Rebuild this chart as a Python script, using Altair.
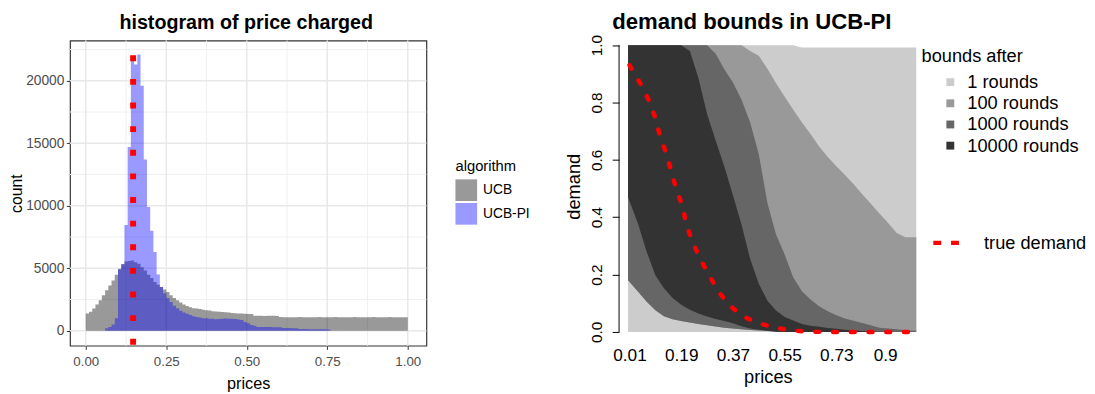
import altair as alt
import pandas as pd

# ---------------- left panel: histogram of price charged ----------------
bin_width = 0.01
ucb_first_bin = 0.0
ucb_counts = [1375, 1510, 1770, 2090, 2430, 2830, 3230, 3620, 4020, 4470,
              4950, 5340, 5530, 5580, 5610, 5480, 5350, 5080, 4810, 4470,
              4210, 3890, 3680, 3490, 3300, 3100, 2830, 2620, 2430, 2250,
              2090, 1985, 1880, 1800, 1770, 1740, 1680, 1640, 1620, 1560,
              1530, 1510, 1490, 1470, 1450, 1420, 1400, 1380, 1370, 1350,
              1340, 1330, 1190, 1185, 1185, 1180, 1185, 1190, 1185, 1180,
              1085, 1080, 1080, 1075, 1080, 1080, 1085, 1080, 1080, 1075,
              1080, 1080, 1085, 1080, 1075, 1080, 1080, 1085, 1080, 1080,
              1075, 1080, 1080, 1085, 1080, 1080, 1075, 1080, 1080, 1085,
              1080, 1080, 1075, 1080, 1085, 1080, 1080, 1075, 1080, 1080]
ucbpi_first_bin = 0.06
ucbpi_counts = [200, 300, 500, 1000, 4900, 5300, 8450, 14700, 21900, 21300,
                22100, 19600, 13700, 9900, 8000, 6300, 4500, 3500, 3000, 2600,
                2300, 2000, 1800, 1600, 1450, 1350, 1250, 1150, 1100, 1050,
                1000, 1000, 950, 950, 920, 930, 960, 970, 960, 950,
                940, 900, 850, 700, 600, 450, 400, 300, 300, 290,
                290, 290, 280, 280, 280, 210, 210, 210, 200, 200,
                130, 130, 130, 120, 120, 120, 110, 110, 110, 100]
optimal_price = [0.147]
algorithms = ["UCB", "UCB-PI"]
hist_x_major = [0.0, 0.25, 0.5, 0.75, 1.0]
hist_x_minor = [0.125, 0.375, 0.625, 0.875]
hist_y_major = [0, 5000, 10000, 15000, 20000]
hist_y_minor = [2500, 7500, 12500, 17500, 22500]

# ---------------- right panel: demand bounds in UCB-PI ----------------
knot_prices = [0.005, 0.04, 0.07, 0.10, 0.13, 0.16, 0.19, 0.22, 0.25, 0.28,
               0.31, 0.34, 0.37, 0.40, 0.43, 0.46, 0.49, 0.52, 0.55, 0.58,
               0.61, 0.64, 0.67, 0.70, 0.73, 0.76, 0.79, 0.82, 0.85, 0.88,
               0.91, 0.94, 0.97, 1.008]
upper_1 = [1.0, 1.0, 1.0, 1.0, 1.0, 1.0, 1.0, 1.0, 1.0, 1.0,
           1.0, 1.0, 1.0, 1.0, 1.0, 1.0, 1.0, 1.0, 1.0, 1.0,
           0.992, 0.992, 0.992, 0.992, 0.992, 0.992, 0.992, 0.992, 0.992, 0.992,
           0.992, 0.992, 0.992, 0.992]
lower_1 = [0.0] * 34
upper_100 = [1.0, 1.0, 1.0, 1.0, 1.0, 1.0, 1.0, 1.0, 1.0, 1.0,
             1.0, 1.0, 1.0, 1.0, 0.98, 0.963, 0.918, 0.867, 0.82, 0.775,
             0.73, 0.69, 0.647, 0.61, 0.578, 0.547, 0.515, 0.48, 0.447, 0.413,
             0.38, 0.345, 0.33, 0.33]
lower_100 = [0.18, 0.14, 0.105, 0.076, 0.055, 0.044, 0.038, 0.033, 0.028, 0.023,
             0.019, 0.015, 0.012, 0.009, 0.007, 0.005, 0.003, 0.002, 0.0, 0.0,
             0.0, 0.0, 0.0, 0.0, 0.0, 0.0, 0.0, 0.0, 0.0, 0.0,
             0.0, 0.0, 0.0, 0.0]
upper_1000 = [1.0, 1.0, 1.0, 1.0, 1.0, 1.0, 1.0, 1.0, 1.0, 1.0,
              0.97, 0.916, 0.87, 0.81, 0.73, 0.62, 0.45, 0.34, 0.27, 0.19,
              0.142, 0.113, 0.09, 0.072, 0.058, 0.047, 0.039, 0.031, 0.023, 0.015,
              0.012, 0.009, 0.006, 0.004]
lower_1000 = [0.18, 0.14, 0.105, 0.076, 0.055, 0.044, 0.038, 0.033, 0.028, 0.023,
              0.019, 0.015, 0.012, 0.009, 0.007, 0.005, 0.003, 0.002, 0.0, 0.0,
              0.0, 0.0, 0.0, 0.0, 0.0, 0.0, 0.0, 0.0, 0.0, 0.0,
              0.0, 0.0, 0.0, 0.0]
upper_10000 = [1.0, 1.0, 1.0, 1.0, 1.0, 1.0, 1.0, 0.98, 0.885, 0.76,
               0.667, 0.577, 0.477, 0.374, 0.254, 0.168, 0.109, 0.075, 0.052, 0.04,
               0.028, 0.022, 0.018, 0.014, 0.011, 0.008, 0.005, 0.003, 0.002, 0.001,
               0.0, 0.0, 0.0, 0.0]
lower_10000 = [0.47, 0.376, 0.279, 0.198, 0.152, 0.118, 0.095, 0.077, 0.064, 0.054,
               0.045, 0.038, 0.03, 0.02, 0.012, 0.008, 0.004, 0.001, 0.0, 0.0,
               0.0, 0.0, 0.0, 0.0, 0.0, 0.0, 0.0, 0.0, 0.0, 0.0,
               0.0, 0.0, 0.0, 0.0]
band_names = ["1 rounds", "100 rounds", "1000 rounds", "10000 rounds"]
band_colors = ["#CCCCCC", "#999999", "#666666", "#333333"]
true_prices = [0.01, 0.048, 0.076, 0.10, 0.116, 0.139, 0.156, 0.173, 0.196, 0.207,
               0.23, 0.253, 0.287, 0.32, 0.356, 0.40, 0.453, 0.51, 0.56, 0.624,
               0.70, 0.80, 0.90, 1.0]
true_demand = [0.93, 0.866, 0.81, 0.746, 0.683, 0.62, 0.558, 0.497, 0.435, 0.375,
               0.314, 0.26, 0.198, 0.14, 0.095, 0.057, 0.032, 0.017, 0.007, 0.001,
               0.0, 0.0, 0.0, 0.0]
demand_ticks = [0.0, 0.2, 0.4, 0.6, 0.8, 1.0]
price_ticks = [0.01, 0.19, 0.37, 0.55, 0.73, 0.9]
axis_span = [0.0, 1.0]

FONT = "Liberation Sans"


def step_frame(first, counts, name):
    rows = []
    for i, c in enumerate(counts):
        rows.append({"start": round(first + i * bin_width, 4), "count": c, "algorithm": name})
    rows.append({"start": round(first + len(counts) * bin_width, 4), "count": counts[-1], "algorithm": name})
    return pd.DataFrame(rows)


ucb_df = step_frame(ucb_first_bin, ucb_counts, algorithms[0])
ucbpi_df = step_frame(ucbpi_first_bin, ucbpi_counts, algorithms[1])

LW, LH = 362, 310
hx = alt.Scale(domain=[-0.049, 1.058], nice=False, zero=False)
hy = alt.Scale(domain=[-1205, 23220], nice=False, zero=False)
fill_scale = alt.Scale(domain=algorithms, range=["#000000", "#0000FF"])

x_axis_left = alt.Axis(values=hist_x_major, format=".2f", grid=False, domain=False,
                       tickColor="#333333", tickSize=3.7, tickWidth=1,
                       labelColor="#4D4D4D", labelFontSize=13.5, labelPadding=5,
                       title="prices", titleFontSize=16.5, titleFontWeight="normal",
                       titleColor="#000000", titlePadding=8)
y_axis_left = alt.Axis(values=hist_y_major, format="d", grid=False, domain=False,
                       tickColor="#333333", tickSize=3.7, tickWidth=1,
                       labelColor="#4D4D4D", labelFontSize=14, labelPadding=2.5,
                       title="count", titleFontSize=16, titleFontWeight="normal",
                       titleColor="#000000", titlePadding=1)
legend_left = alt.Legend(title="algorithm", orient="none", legendX=391.5, legendY=121,
                         symbolType="square", symbolSize=484, symbolOpacity=0.4,
                         symbolStrokeWidth=0, labelFontSize=14, titleFontSize=15,
                         titleFontWeight="normal", rowPadding=2, labelOffset=6,
                         titlePadding=5, padding=0, labelColor="#000000", titleColor="#000000")

grid_major_x = alt.Chart(pd.DataFrame({"v": hist_x_major})).mark_rule(
    color="#E8E8E8", strokeWidth=1.5).encode(x=alt.X("v:Q", scale=hx, axis=x_axis_left))
grid_minor_x = alt.Chart(pd.DataFrame({"v": hist_x_minor})).mark_rule(
    color="#F0F0F0", strokeWidth=1).encode(x=alt.X("v:Q", scale=hx, axis=x_axis_left))
grid_major_y = alt.Chart(pd.DataFrame({"v": hist_y_major})).mark_rule(
    color="#E8E8E8", strokeWidth=1.5).encode(y=alt.Y("v:Q", scale=hy, axis=y_axis_left))
grid_minor_y = alt.Chart(pd.DataFrame({"v": hist_y_minor})).mark_rule(
    color="#F0F0F0", strokeWidth=1).encode(y=alt.Y("v:Q", scale=hy, axis=y_axis_left))


def hist_layer(df):
    return alt.Chart(df).mark_area(interpolate="step-after", opacity=0.4).encode(
        x=alt.X("start:Q", scale=hx, axis=x_axis_left),
        y=alt.Y("count:Q", scale=hy, axis=y_axis_left, stack=None),
        y2=alt.datum(0),
        fill=alt.Fill("algorithm:N", scale=fill_scale, legend=legend_left),
    )


vline = alt.Chart(pd.DataFrame({"p": optimal_price})).mark_rule(
    color="#FF0000", strokeWidth=6, strokeDash=[6, 18], strokeDashOffset=9
).encode(x=alt.X("p:Q", scale=hx, axis=x_axis_left))

left = alt.layer(
    grid_minor_x, grid_minor_y, grid_major_x, grid_major_y,
    hist_layer(ucb_df), hist_layer(ucbpi_df), vline
).properties(
    width=LW, height=LH,
    view=alt.ViewBackground(stroke="#333333", strokeWidth=1.2),
    title=alt.TitleParams("histogram of price charged", fontSize=20, fontWeight="bold",
                          font=FONT, frame="group", anchor="middle", dx=-2,
                          baseline="alphabetic", offset=-11, color="#000000"),
)

# ---------------- right ----------------
RW, RH = 302.3, 296
rx = alt.Scale(domain=[-0.0263, 1.0095], nice=False, zero=False)
ry = alt.Scale(domain=[0, 1.0161], nice=False, zero=False)
band_scale = alt.Scale(domain=band_names, range=band_colors)

x_axis_right = alt.Axis(values=price_ticks, grid=False, domain=False, ticks=False,
                        labelExpr="datum.value == 0.9 ? '0.9' : format(datum.value, '.2f')",
                        labelFontSize=17.5, labelColor="#000000", labelPadding=14.5,
                        title="prices", titleFontSize=18.5, titleFontWeight="normal",
                        titleColor="#000000", titlePadding=4)
y_axis_right = alt.Axis(values=demand_ticks, format=".1f", grid=False, domain=False,
                        tickColor="#000000", tickSize=7, tickWidth=1,
                        labelAngle=270, labelAlign="center", labelBaseline="bottom",
                        labelFontSize=15.5, labelColor="#000000", labelPadding=8.3,
                        title="demand", titleFontSize=18.5, titleFontWeight="normal",
                        titleColor="#000000", titlePadding=6)
legend_bands = alt.Legend(title="bounds after", orient="none", legendX=307.2, legendY=6.5,
                          symbolType="square", symbolSize=64, symbolOffset=20,
                          symbolStrokeWidth=0, labelOffset=8, labelFontSize=18.5,
                          titleFontSize=18.5, titleFontWeight="normal", rowPadding=2.5,
                          titlePadding=8, padding=0, labelColor="#000000", titleColor="#000000")
legend_true = alt.Legend(title=None, orient="none", legendX=316.7, legendY=190,
                         symbolType="stroke", symbolSize=676, symbolDash=[8, 10],
                         symbolStrokeWidth=4.5, labelOffset=23, labelFontSize=18.5,
                         padding=0, labelColor="#000000")

band_data = [
    (band_names[0], lower_1, upper_1),
    (band_names[1], lower_100, upper_100),
    (band_names[2], lower_1000, upper_1000),
    (band_names[3], lower_10000, upper_10000),
]
band_layers = []
for name, lo, up in band_data:
    df = pd.DataFrame({"price": knot_prices, "lower": lo, "upper": up, "band": name})
    band_layers.append(
        alt.Chart(df).mark_area(interpolate="linear").encode(
            x=alt.X("price:Q", scale=rx, axis=x_axis_right),
            y=alt.Y("upper:Q", scale=ry, axis=y_axis_right, stack=None),
            y2="lower:Q",
            fill=alt.Fill("band:N", scale=band_scale, legend=legend_bands),
        )
    )

true_df = pd.DataFrame({"price": true_prices, "demand": true_demand, "series": "true demand"})
true_line = alt.Chart(true_df).mark_line(strokeWidth=4.5, strokeDash=[4, 14], strokeCap="round").encode(
    x=alt.X("price:Q", scale=rx, axis=x_axis_right),
    y=alt.Y("demand:Q", scale=ry, axis=y_axis_right),
    stroke=alt.Stroke("series:N", scale=alt.Scale(domain=["true demand"], range=["#FF0000"]),
                      legend=legend_true),
)

axis_line = alt.Chart(pd.DataFrame({"lo": [axis_span[0]], "hi": [axis_span[1]]})).mark_rule(
    color="#000000", strokeWidth=1).encode(
    x=alt.value(0),
    y=alt.Y("lo:Q", scale=ry, axis=y_axis_right),
    y2="hi:Q",
)

right = alt.layer(*band_layers, true_line, axis_line).properties(
    width=RW, height=RH,
    title=alt.TitleParams("demand bounds in UCB-PI", fontSize=22.5, fontWeight="bold",
                          font=FONT, frame="group", anchor="middle", dx=-16.3,
                          baseline="alphabetic", offset=-17, color="#000000"),
)

chart = alt.hconcat(left, right, spacing=32.7).resolve_scale(
    x="independent", y="independent", fill="independent", stroke="independent"
).properties(
    padding={"left": 0, "top": 0, "right": 0, "bottom": 0}
).configure(font=FONT).configure_view(strokeWidth=0)

chart.save("out.html", embed_options={"renderer": "svg", "actions": False})
